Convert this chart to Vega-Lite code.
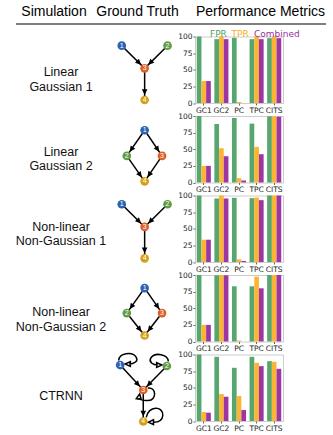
{
  "$schema": "https://vega.github.io/schema/vega-lite/v6.json",
  "padding": {"left": 15, "top": 0, "right": 0, "bottom": 0},
  "columns": 3,
  "spacing": {"row": 12.5, "column": 0},
  "bounds": "flush",
  "align": "each",
  "center": true,
  "resolve": {"scale": {"color": "independent", "fill": "independent", "shape": "independent"}, "legend": {"color": "independent"}},
  "datasets": {
    "nodes": [
      {"sim": "LG1", "node": 1, "id": "LG1-1", "gx": -1, "gy": 0.4},
      {"sim": "LG1", "node": 2, "id": "LG1-2", "gx": 1, "gy": 0.4},
      {"sim": "LG1", "node": 3, "id": "LG1-3", "gx": 0, "gy": 1.39},
      {"sim": "LG1", "node": 4, "id": "LG1-4", "gx": 0, "gy": 2.77},
      {"sim": "LG2", "node": 1, "id": "LG2-1", "gx": 0, "gy": 0.62},
      {"sim": "LG2", "node": 2, "id": "LG2-2", "gx": -0.78, "gy": 1.74},
      {"sim": "LG2", "node": 3, "id": "LG2-3", "gx": 0.76, "gy": 1.74},
      {"sim": "LG2", "node": 4, "id": "LG2-4", "gx": 0, "gy": 2.85},
      {"sim": "NL1", "node": 1, "id": "NL1-1", "gx": -1, "gy": 0.38},
      {"sim": "NL1", "node": 2, "id": "NL1-2", "gx": 1, "gy": 0.38},
      {"sim": "NL1", "node": 3, "id": "NL1-3", "gx": 0, "gy": 1.37},
      {"sim": "NL1", "node": 4, "id": "NL1-4", "gx": 0, "gy": 2.74},
      {"sim": "NL2", "node": 1, "id": "NL2-1", "gx": 0, "gy": 0.57},
      {"sim": "NL2", "node": 2, "id": "NL2-2", "gx": -0.78, "gy": 1.66},
      {"sim": "NL2", "node": 3, "id": "NL2-3", "gx": 0.76, "gy": 1.66},
      {"sim": "NL2", "node": 4, "id": "NL2-4", "gx": 0, "gy": 2.64},
      {"sim": "CT", "node": 1, "id": "CT-1", "gx": -1.07, "gy": 0.46, "selfLoop": true},
      {"sim": "CT", "node": 2, "id": "CT-2", "gx": 0.97, "gy": 0.5, "selfLoop": true},
      {"sim": "CT", "node": 3, "id": "CT-3", "gx": -0.06, "gy": 1.55, "selfLoop": true},
      {"sim": "CT", "node": 4, "id": "CT-4", "gx": -0.06, "gy": 2.92, "selfLoop": true}
    ],
    "edges": [
      {"sim": "LG1", "from": "LG1-1", "to": "LG1-3"},
      {"sim": "LG1", "from": "LG1-2", "to": "LG1-3"},
      {"sim": "LG1", "from": "LG1-3", "to": "LG1-4"},
      {"sim": "LG2", "from": "LG2-1", "to": "LG2-2"},
      {"sim": "LG2", "from": "LG2-1", "to": "LG2-3"},
      {"sim": "LG2", "from": "LG2-2", "to": "LG2-4"},
      {"sim": "LG2", "from": "LG2-3", "to": "LG2-4"},
      {"sim": "NL1", "from": "NL1-1", "to": "NL1-3"},
      {"sim": "NL1", "from": "NL1-2", "to": "NL1-3"},
      {"sim": "NL1", "from": "NL1-3", "to": "NL1-4"},
      {"sim": "NL2", "from": "NL2-1", "to": "NL2-2"},
      {"sim": "NL2", "from": "NL2-1", "to": "NL2-3"},
      {"sim": "NL2", "from": "NL2-2", "to": "NL2-4"},
      {"sim": "NL2", "from": "NL2-3", "to": "NL2-4"},
      {"sim": "CT", "from": "CT-1", "to": "CT-3"},
      {"sim": "CT", "from": "CT-2", "to": "CT-3"},
      {"sim": "CT", "from": "CT-3", "to": "CT-4"}
    ],
    "bars": [
      {"sim": "LG1", "method": "GC1", "metric": "FPR", "value": 100},
      {"sim": "LG1", "method": "GC1", "metric": "TPR", "value": 33},
      {"sim": "LG1", "method": "GC1", "metric": "Combined", "value": 33},
      {"sim": "LG1", "method": "GC2", "metric": "FPR", "value": 96},
      {"sim": "LG1", "method": "GC2", "metric": "TPR", "value": 100},
      {"sim": "LG1", "method": "GC2", "metric": "Combined", "value": 96},
      {"sim": "LG1", "method": "PC", "metric": "FPR", "value": 98},
      {"sim": "LG1", "method": "PC", "metric": "TPR", "value": 1.5},
      {"sim": "LG1", "method": "PC", "metric": "Combined", "value": 0},
      {"sim": "LG1", "method": "TPC", "metric": "FPR", "value": 96},
      {"sim": "LG1", "method": "TPC", "metric": "TPR", "value": 100},
      {"sim": "LG1", "method": "TPC", "metric": "Combined", "value": 96},
      {"sim": "LG1", "method": "CITS", "metric": "FPR", "value": 97.5},
      {"sim": "LG1", "method": "CITS", "metric": "TPR", "value": 100},
      {"sim": "LG1", "method": "CITS", "metric": "Combined", "value": 97.5},
      {"sim": "LG2", "method": "GC1", "metric": "FPR", "value": 100},
      {"sim": "LG2", "method": "GC1", "metric": "TPR", "value": 25},
      {"sim": "LG2", "method": "GC1", "metric": "Combined", "value": 25},
      {"sim": "LG2", "method": "GC2", "metric": "FPR", "value": 88},
      {"sim": "LG2", "method": "GC2", "metric": "TPR", "value": 51.5},
      {"sim": "LG2", "method": "GC2", "metric": "Combined", "value": 39.5},
      {"sim": "LG2", "method": "PC", "metric": "FPR", "value": 97},
      {"sim": "LG2", "method": "PC", "metric": "TPR", "value": 6.5},
      {"sim": "LG2", "method": "PC", "metric": "Combined", "value": 3},
      {"sim": "LG2", "method": "TPC", "metric": "FPR", "value": 88.5},
      {"sim": "LG2", "method": "TPC", "metric": "TPR", "value": 53.5},
      {"sim": "LG2", "method": "TPC", "metric": "Combined", "value": 42.5},
      {"sim": "LG2", "method": "CITS", "metric": "FPR", "value": 99.5},
      {"sim": "LG2", "method": "CITS", "metric": "TPR", "value": 99.5},
      {"sim": "LG2", "method": "CITS", "metric": "Combined", "value": 99},
      {"sim": "NL1", "method": "GC1", "metric": "FPR", "value": 100},
      {"sim": "NL1", "method": "GC1", "metric": "TPR", "value": 33.5},
      {"sim": "NL1", "method": "GC1", "metric": "Combined", "value": 33.5},
      {"sim": "NL1", "method": "GC2", "metric": "FPR", "value": 95.5},
      {"sim": "NL1", "method": "GC2", "metric": "TPR", "value": 100},
      {"sim": "NL1", "method": "GC2", "metric": "Combined", "value": 95.5},
      {"sim": "NL1", "method": "PC", "metric": "FPR", "value": 96.5},
      {"sim": "NL1", "method": "PC", "metric": "TPR", "value": 4},
      {"sim": "NL1", "method": "PC", "metric": "Combined", "value": 1.5},
      {"sim": "NL1", "method": "TPC", "metric": "FPR", "value": 96},
      {"sim": "NL1", "method": "TPC", "metric": "TPR", "value": 97},
      {"sim": "NL1", "method": "TPC", "metric": "Combined", "value": 93},
      {"sim": "NL1", "method": "CITS", "metric": "FPR", "value": 100},
      {"sim": "NL1", "method": "CITS", "metric": "TPR", "value": 100},
      {"sim": "NL1", "method": "CITS", "metric": "Combined", "value": 100},
      {"sim": "NL2", "method": "GC1", "metric": "FPR", "value": 100},
      {"sim": "NL2", "method": "GC1", "metric": "TPR", "value": 25},
      {"sim": "NL2", "method": "GC1", "metric": "Combined", "value": 25},
      {"sim": "NL2", "method": "GC2", "metric": "FPR", "value": 99.5},
      {"sim": "NL2", "method": "GC2", "metric": "TPR", "value": 100},
      {"sim": "NL2", "method": "GC2", "metric": "Combined", "value": 99.5},
      {"sim": "NL2", "method": "PC", "metric": "FPR", "value": 83},
      {"sim": "NL2", "method": "PC", "metric": "TPR", "value": 1.5},
      {"sim": "NL2", "method": "PC", "metric": "Combined", "value": 0},
      {"sim": "NL2", "method": "TPC", "metric": "FPR", "value": 83},
      {"sim": "NL2", "method": "TPC", "metric": "TPR", "value": 97.5},
      {"sim": "NL2", "method": "TPC", "metric": "Combined", "value": 80},
      {"sim": "NL2", "method": "CITS", "metric": "FPR", "value": 100},
      {"sim": "NL2", "method": "CITS", "metric": "TPR", "value": 100},
      {"sim": "NL2", "method": "CITS", "metric": "Combined", "value": 100},
      {"sim": "CT", "method": "GC1", "metric": "FPR", "value": 100},
      {"sim": "CT", "method": "GC1", "metric": "TPR", "value": 13.5},
      {"sim": "CT", "method": "GC1", "metric": "Combined", "value": 12.5},
      {"sim": "CT", "method": "GC2", "metric": "FPR", "value": 96.5},
      {"sim": "CT", "method": "GC2", "metric": "TPR", "value": 40.5},
      {"sim": "CT", "method": "GC2", "metric": "Combined", "value": 36.5},
      {"sim": "CT", "method": "PC", "metric": "FPR", "value": 80},
      {"sim": "CT", "method": "PC", "metric": "TPR", "value": 37.5},
      {"sim": "CT", "method": "PC", "metric": "Combined", "value": 16.5},
      {"sim": "CT", "method": "TPC", "metric": "FPR", "value": 96.5},
      {"sim": "CT", "method": "TPC", "metric": "TPR", "value": 87.5},
      {"sim": "CT", "method": "TPC", "metric": "Combined", "value": 82.5},
      {"sim": "CT", "method": "CITS", "metric": "FPR", "value": 90},
      {"sim": "CT", "method": "CITS", "metric": "TPR", "value": 89},
      {"sim": "CT", "method": "CITS", "metric": "Combined", "value": 78.5}
    ]
  },
  "concat": [
    {
      "width": 76, "height": 24, "view": {"stroke": null},
      "data": {"values": [{"heading": "Simulation"}]},
      "layer": [
        {"mark": {"type": "text", "font": "Liberation Sans", "fontSize": 14, "color": "#000000"}, "encoding": {"text": {"field": "heading"}}},
        {"mark": {"type": "rule", "color": "#000000", "strokeWidth": 1.2}, "encoding": {"y": {"datum": 0, "type": "quantitative", "scale": {"domain": [0, 1]}, "axis": null}}}
      ]
    },
    {
      "width": 103, "height": 24, "view": {"stroke": null},
      "data": {"values": [{"heading": "Ground Truth"}]},
      "layer": [
        {"mark": {"type": "text", "font": "Liberation Sans", "fontSize": 14, "color": "#000000", "dx": -6}, "encoding": {"text": {"field": "heading"}}},
        {"mark": {"type": "rule", "color": "#000000", "strokeWidth": 1.2}, "encoding": {"y": {"datum": 0, "type": "quantitative", "scale": {"domain": [0, 1]}, "axis": null}}}
      ]
    },
    {
      "width": 131, "height": 24, "view": {"stroke": null},
      "data": {"values": [{"heading": "Performance Metrics"}]},
      "layer": [
        {"mark": {"type": "text", "font": "Liberation Sans", "fontSize": 14, "color": "#000000"}, "encoding": {"text": {"field": "heading"}}},
        {"mark": {"type": "rule", "color": "#000000", "strokeWidth": 1.2}, "encoding": {"y": {"datum": 0, "type": "quantitative", "scale": {"domain": [0, 1]}, "axis": null}}}
      ]
    },

    {
      "width": 76, "height": 66.5, "view": {"stroke": null},
      "data": {"values": [{"label": "Linear\nGaussian 1"}]},
      "mark": {"type": "text", "font": "Liberation Sans", "fontSize": 12.5, "lineHeight": 14.5, "lineBreak": "\n", "color": "#111111", "dx": 7, "dy": 2.5},
      "encoding": {"text": {"field": "label"}}
    },
    {
      "width": 103, "height": 66.5, "view": {"stroke": null},
      "layer": [
        {
          "data": {"name": "edges"},
          "transform": [
            {"filter": "datum.sim === 'LG1'"},
            {"lookup": "from", "from": {"data": {"name": "nodes"}, "key": "id", "fields": ["gx", "gy"]}, "as": ["sx", "sy"]},
            {"lookup": "to", "from": {"data": {"name": "nodes"}, "key": "id", "fields": ["gx", "gy"]}, "as": ["tx", "ty"]},
            {"calculate": "atan2(datum.sx - datum.tx, datum.ty - datum.sy) * 180 / PI", "as": "angle"}
          ],
          "layer": [
            {"mark": {"type": "rule", "color": "#000000", "strokeWidth": 1.5},
             "encoding": {"x": {"field": "sx", "type": "quantitative", "scale": {"domain": [-2.3, 2.2], "nice": false, "zero": false}, "axis": null}, "y": {"field": "sy", "type": "quantitative", "scale": {"domain": [0, 2.9], "nice": false, "zero": false, "reverse": true}, "axis": null}, "x2": {"field": "tx"}, "y2": {"field": "ty"}}},
            {"mark": {"type": "point", "shape": "M0,-0.5L-0.28,-1.08L0.28,-1.08Z", "size": 400, "filled": true, "color": "#000000", "opacity": 1, "strokeWidth": 0},
             "encoding": {"x": {"field": "tx", "type": "quantitative"}, "y": {"field": "ty", "type": "quantitative"}, "angle": {"field": "angle", "type": "quantitative", "scale": null}}}
          ]
        },
        {
          "data": {"name": "nodes"},
          "transform": [{"filter": "datum.sim === 'LG1'"}],
          "layer": [
            {"mark": {"type": "circle", "size": 75, "opacity": 1},
             "encoding": {"x": {"field": "gx", "type": "quantitative"}, "y": {"field": "gy", "type": "quantitative"}, "fill": {"field": "node", "type": "nominal", "scale": {"domain": [1, 2, 3, 4], "range": ["#2d62b0", "#5f9c45", "#db5f27", "#d4a018"]}, "legend": null}}},
            {"mark": {"type": "text", "color": "#ffffff", "fontSize": 7, "font": "Liberation Sans"},
             "encoding": {"x": {"field": "gx", "type": "quantitative"}, "y": {"field": "gy", "type": "quantitative"}, "text": {"field": "node"}}}
          ]
        }
      ]
    },
    {
      "width": 88, "height": 66.5, "view": {"stroke": "#cccccc"},
      "data": {"name": "bars"},
      "transform": [{"filter": "datum.sim === 'LG1'"}],
      "mark": {"type": "bar"},
      "encoding": {
        "x": {"field": "method", "type": "nominal", "sort": ["GC1", "GC2", "PC", "TPC", "CITS"], "scale": {"paddingInner": 0.2, "paddingOuter": 0.1}, "axis": {"title": null, "labelAngle": 0}},
        "xOffset": {"field": "metric", "type": "nominal", "sort": ["FPR", "TPR", "Combined"]},
        "y": {"field": "value", "type": "quantitative", "scale": {"domain": [0, 100], "nice": false}, "axis": {"title": null, "values": [0, 25, 50, 75, 100]}},
        "color": {"field": "metric", "type": "nominal", "scale": {"domain": ["FPR", "TPR", "Combined"], "range": ["#58a66f", "#fbb433", "#9c36a2"]},
          "legend": {"orient": "top", "direction": "horizontal", "title": null, "gridAlign": "none", "symbolSize": 0, "symbolStrokeWidth": 0, "symbolOpacity": 0, "labelOffset": 6, "columnPadding": -10.5, "labelFont": "DejaVu Sans", "labelFontSize": 9, "labelFontWeight": 500, "offset": -3, "padding": 0,
            "labelColor": {"expr": "datum.value === 'FPR' ? '#4f9f66' : datum.value === 'TPR' ? '#f9ae25' : '#962f9c'"}}}
      }
    },

    {
      "width": 76, "height": 66.5, "view": {"stroke": null},
      "data": {"values": [{"label": "Linear\nGaussian 2"}]},
      "mark": {"type": "text", "font": "Liberation Sans", "fontSize": 12.5, "lineHeight": 14.5, "lineBreak": "\n", "color": "#111111", "dx": 7, "dy": 2.5},
      "encoding": {"text": {"field": "label"}}
    },
    {
      "width": 103, "height": 66.5, "view": {"stroke": null},
      "layer": [
        {
          "data": {"name": "edges"},
          "transform": [
            {"filter": "datum.sim === 'LG2'"},
            {"lookup": "from", "from": {"data": {"name": "nodes"}, "key": "id", "fields": ["gx", "gy"]}, "as": ["sx", "sy"]},
            {"lookup": "to", "from": {"data": {"name": "nodes"}, "key": "id", "fields": ["gx", "gy"]}, "as": ["tx", "ty"]},
            {"calculate": "atan2(datum.sx - datum.tx, datum.ty - datum.sy) * 180 / PI", "as": "angle"}
          ],
          "layer": [
            {"mark": {"type": "rule", "color": "#000000", "strokeWidth": 1.5},
             "encoding": {"x": {"field": "sx", "type": "quantitative", "scale": {"domain": [-2.3, 2.2], "nice": false, "zero": false}, "axis": null}, "y": {"field": "sy", "type": "quantitative", "scale": {"domain": [0, 2.9], "nice": false, "zero": false, "reverse": true}, "axis": null}, "x2": {"field": "tx"}, "y2": {"field": "ty"}}},
            {"mark": {"type": "point", "shape": "M0,-0.5L-0.28,-1.08L0.28,-1.08Z", "size": 400, "filled": true, "color": "#000000", "opacity": 1, "strokeWidth": 0},
             "encoding": {"x": {"field": "tx", "type": "quantitative"}, "y": {"field": "ty", "type": "quantitative"}, "angle": {"field": "angle", "type": "quantitative", "scale": null}}}
          ]
        },
        {
          "data": {"name": "nodes"},
          "transform": [{"filter": "datum.sim === 'LG2'"}],
          "layer": [
            {"mark": {"type": "circle", "size": 75, "opacity": 1},
             "encoding": {"x": {"field": "gx", "type": "quantitative"}, "y": {"field": "gy", "type": "quantitative"}, "fill": {"field": "node", "type": "nominal", "scale": {"domain": [1, 2, 3, 4], "range": ["#2d62b0", "#5f9c45", "#db5f27", "#d4a018"]}, "legend": null}}},
            {"mark": {"type": "text", "color": "#ffffff", "fontSize": 7, "font": "Liberation Sans"},
             "encoding": {"x": {"field": "gx", "type": "quantitative"}, "y": {"field": "gy", "type": "quantitative"}, "text": {"field": "node"}}}
          ]
        }
      ]
    },
    {
      "width": 88, "height": 66.5, "view": {"stroke": "#cccccc"},
      "data": {"name": "bars"},
      "transform": [{"filter": "datum.sim === 'LG2'"}],
      "mark": {"type": "bar"},
      "encoding": {
        "x": {"field": "method", "type": "nominal", "sort": ["GC1", "GC2", "PC", "TPC", "CITS"], "scale": {"paddingInner": 0.2, "paddingOuter": 0.1}, "axis": {"title": null, "labelAngle": 0}},
        "xOffset": {"field": "metric", "type": "nominal", "sort": ["FPR", "TPR", "Combined"]},
        "y": {"field": "value", "type": "quantitative", "scale": {"domain": [0, 100], "nice": false}, "axis": {"title": null, "values": [0, 25, 50, 75, 100]}},
        "color": {"field": "metric", "type": "nominal", "scale": {"domain": ["FPR", "TPR", "Combined"], "range": ["#58a66f", "#fbb433", "#9c36a2"]}, "legend": null}
      }
    },

    {
      "width": 76, "height": 66.5, "view": {"stroke": null},
      "data": {"values": [{"label": "Non-linear\nNon-Gaussian 1"}]},
      "mark": {"type": "text", "font": "Liberation Sans", "fontSize": 12.5, "lineHeight": 14.5, "lineBreak": "\n", "color": "#111111", "dx": 7, "dy": -2},
      "encoding": {"text": {"field": "label"}}
    },
    {
      "width": 103, "height": 66.5, "view": {"stroke": null},
      "layer": [
        {
          "data": {"name": "edges"},
          "transform": [
            {"filter": "datum.sim === 'NL1'"},
            {"lookup": "from", "from": {"data": {"name": "nodes"}, "key": "id", "fields": ["gx", "gy"]}, "as": ["sx", "sy"]},
            {"lookup": "to", "from": {"data": {"name": "nodes"}, "key": "id", "fields": ["gx", "gy"]}, "as": ["tx", "ty"]},
            {"calculate": "atan2(datum.sx - datum.tx, datum.ty - datum.sy) * 180 / PI", "as": "angle"}
          ],
          "layer": [
            {"mark": {"type": "rule", "color": "#000000", "strokeWidth": 1.5},
             "encoding": {"x": {"field": "sx", "type": "quantitative", "scale": {"domain": [-2.3, 2.2], "nice": false, "zero": false}, "axis": null}, "y": {"field": "sy", "type": "quantitative", "scale": {"domain": [0, 2.9], "nice": false, "zero": false, "reverse": true}, "axis": null}, "x2": {"field": "tx"}, "y2": {"field": "ty"}}},
            {"mark": {"type": "point", "shape": "M0,-0.5L-0.28,-1.08L0.28,-1.08Z", "size": 400, "filled": true, "color": "#000000", "opacity": 1, "strokeWidth": 0},
             "encoding": {"x": {"field": "tx", "type": "quantitative"}, "y": {"field": "ty", "type": "quantitative"}, "angle": {"field": "angle", "type": "quantitative", "scale": null}}}
          ]
        },
        {
          "data": {"name": "nodes"},
          "transform": [{"filter": "datum.sim === 'NL1'"}],
          "layer": [
            {"mark": {"type": "circle", "size": 75, "opacity": 1},
             "encoding": {"x": {"field": "gx", "type": "quantitative"}, "y": {"field": "gy", "type": "quantitative"}, "fill": {"field": "node", "type": "nominal", "scale": {"domain": [1, 2, 3, 4], "range": ["#2d62b0", "#5f9c45", "#db5f27", "#d4a018"]}, "legend": null}}},
            {"mark": {"type": "text", "color": "#ffffff", "fontSize": 7, "font": "Liberation Sans"},
             "encoding": {"x": {"field": "gx", "type": "quantitative"}, "y": {"field": "gy", "type": "quantitative"}, "text": {"field": "node"}}}
          ]
        }
      ]
    },
    {
      "width": 88, "height": 66.5, "view": {"stroke": "#cccccc"},
      "data": {"name": "bars"},
      "transform": [{"filter": "datum.sim === 'NL1'"}],
      "mark": {"type": "bar"},
      "encoding": {
        "x": {"field": "method", "type": "nominal", "sort": ["GC1", "GC2", "PC", "TPC", "CITS"], "scale": {"paddingInner": 0.2, "paddingOuter": 0.1}, "axis": {"title": null, "labelAngle": 0}},
        "xOffset": {"field": "metric", "type": "nominal", "sort": ["FPR", "TPR", "Combined"]},
        "y": {"field": "value", "type": "quantitative", "scale": {"domain": [0, 100], "nice": false}, "axis": {"title": null, "values": [0, 25, 50, 75, 100]}},
        "color": {"field": "metric", "type": "nominal", "scale": {"domain": ["FPR", "TPR", "Combined"], "range": ["#58a66f", "#fbb433", "#9c36a2"]}, "legend": null}
      }
    },

    {
      "width": 76, "height": 66.5, "view": {"stroke": null},
      "data": {"values": [{"label": "Non-linear\nNon-Gaussian 2"}]},
      "mark": {"type": "text", "font": "Liberation Sans", "fontSize": 12.5, "lineHeight": 14.5, "lineBreak": "\n", "color": "#111111", "dx": 7, "dy": 4},
      "encoding": {"text": {"field": "label"}}
    },
    {
      "width": 103, "height": 66.5, "view": {"stroke": null},
      "layer": [
        {
          "data": {"name": "edges"},
          "transform": [
            {"filter": "datum.sim === 'NL2'"},
            {"lookup": "from", "from": {"data": {"name": "nodes"}, "key": "id", "fields": ["gx", "gy"]}, "as": ["sx", "sy"]},
            {"lookup": "to", "from": {"data": {"name": "nodes"}, "key": "id", "fields": ["gx", "gy"]}, "as": ["tx", "ty"]},
            {"calculate": "atan2(datum.sx - datum.tx, datum.ty - datum.sy) * 180 / PI", "as": "angle"}
          ],
          "layer": [
            {"mark": {"type": "rule", "color": "#000000", "strokeWidth": 1.5},
             "encoding": {"x": {"field": "sx", "type": "quantitative", "scale": {"domain": [-2.3, 2.2], "nice": false, "zero": false}, "axis": null}, "y": {"field": "sy", "type": "quantitative", "scale": {"domain": [0, 2.9], "nice": false, "zero": false, "reverse": true}, "axis": null}, "x2": {"field": "tx"}, "y2": {"field": "ty"}}},
            {"mark": {"type": "point", "shape": "M0,-0.5L-0.28,-1.08L0.28,-1.08Z", "size": 400, "filled": true, "color": "#000000", "opacity": 1, "strokeWidth": 0},
             "encoding": {"x": {"field": "tx", "type": "quantitative"}, "y": {"field": "ty", "type": "quantitative"}, "angle": {"field": "angle", "type": "quantitative", "scale": null}}}
          ]
        },
        {
          "data": {"name": "nodes"},
          "transform": [{"filter": "datum.sim === 'NL2'"}],
          "layer": [
            {"mark": {"type": "circle", "size": 75, "opacity": 1},
             "encoding": {"x": {"field": "gx", "type": "quantitative"}, "y": {"field": "gy", "type": "quantitative"}, "fill": {"field": "node", "type": "nominal", "scale": {"domain": [1, 2, 3, 4], "range": ["#2d62b0", "#5f9c45", "#db5f27", "#d4a018"]}, "legend": null}}},
            {"mark": {"type": "text", "color": "#ffffff", "fontSize": 7, "font": "Liberation Sans"},
             "encoding": {"x": {"field": "gx", "type": "quantitative"}, "y": {"field": "gy", "type": "quantitative"}, "text": {"field": "node"}}}
          ]
        }
      ]
    },
    {
      "width": 88, "height": 66.5, "view": {"stroke": "#cccccc"},
      "data": {"name": "bars"},
      "transform": [{"filter": "datum.sim === 'NL2'"}],
      "mark": {"type": "bar"},
      "encoding": {
        "x": {"field": "method", "type": "nominal", "sort": ["GC1", "GC2", "PC", "TPC", "CITS"], "scale": {"paddingInner": 0.2, "paddingOuter": 0.1}, "axis": {"title": null, "labelAngle": 0}},
        "xOffset": {"field": "metric", "type": "nominal", "sort": ["FPR", "TPR", "Combined"]},
        "y": {"field": "value", "type": "quantitative", "scale": {"domain": [0, 100], "nice": false}, "axis": {"title": null, "values": [0, 25, 50, 75, 100]}},
        "color": {"field": "metric", "type": "nominal", "scale": {"domain": ["FPR", "TPR", "Combined"], "range": ["#58a66f", "#fbb433", "#9c36a2"]}, "legend": null}
      }
    },

    {
      "width": 76, "height": 66.5, "view": {"stroke": null},
      "data": {"values": [{"label": "CTRNN"}]},
      "mark": {"type": "text", "font": "Liberation Sans", "fontSize": 12.5, "color": "#111111", "dx": 7, "dy": 8},
      "encoding": {"text": {"field": "label"}}
    },
    {
      "width": 103, "height": 66.5, "view": {"stroke": null},
      "layer": [
        {
          "data": {"name": "edges"},
          "transform": [
            {"filter": "datum.sim === 'CT'"},
            {"lookup": "from", "from": {"data": {"name": "nodes"}, "key": "id", "fields": ["gx", "gy"]}, "as": ["sx", "sy"]},
            {"lookup": "to", "from": {"data": {"name": "nodes"}, "key": "id", "fields": ["gx", "gy"]}, "as": ["tx", "ty"]},
            {"calculate": "atan2(datum.sx - datum.tx, datum.ty - datum.sy) * 180 / PI", "as": "angle"}
          ],
          "layer": [
            {"mark": {"type": "rule", "color": "#000000", "strokeWidth": 1.5},
             "encoding": {"x": {"field": "sx", "type": "quantitative", "scale": {"domain": [-2.3, 2.2], "nice": false, "zero": false}, "axis": null}, "y": {"field": "sy", "type": "quantitative", "scale": {"domain": [0, 2.9], "nice": false, "zero": false, "reverse": true}, "axis": null}, "x2": {"field": "tx"}, "y2": {"field": "ty"}}},
            {"mark": {"type": "point", "shape": "M0,-0.5L-0.28,-1.08L0.28,-1.08Z", "size": 400, "filled": true, "color": "#000000", "opacity": 1, "strokeWidth": 0},
             "encoding": {"x": {"field": "tx", "type": "quantitative"}, "y": {"field": "ty", "type": "quantitative"}, "angle": {"field": "angle", "type": "quantitative", "scale": null}}}
          ]
        },
        {
          "data": {"name": "nodes"},
          "transform": [{"filter": "datum.sim === 'CT' && datum.selfLoop"}],
          "mark": {"type": "point", "size": 400, "filled": false, "color": "#000000", "strokeWidth": 1.5, "opacity": 1},
          "encoding": {
            "x": {"field": "gx", "type": "quantitative"}, "y": {"field": "gy", "type": "quantitative"},
            "shape": {"field": "node", "type": "nominal", "legend": null, "scale": {"domain": [1, 2, 3, 4], "range": [
              "M-0.15,-0.46C-0.1,-1.2 1.2,-1.4 1.6,-0.8C1.85,-0.4 1.4,-0.1 0.9,-0.1M0.5,-0.1L1.02,-0.34L1.02,0.14Z",
              "M0.15,-0.46C0.1,-1.2 -1.2,-1.4 -1.6,-0.8C-1.85,-0.4 -1.4,-0.1 -0.9,-0.1M-0.5,-0.1L-1.02,-0.34L-1.02,0.14Z",
              "M0.45,-0.2C1.3,-0.35 1.4,1.0 0.5,1.05C0.0,1.08 -0.35,0.95 -0.42,0.8M-0.36,0.38L-0.7,0.86L-0.2,0.95Z",
              "M0.3,-0.4C0.5,-1.6 2.0,-1.6 1.95,-0.6C1.9,0 1.4,0.08 1.0,0.07M0.52,0.07L1.02,-0.17L1.02,0.31Z"
            ]}}
          }
        },
        {
          "data": {"name": "nodes"},
          "transform": [{"filter": "datum.sim === 'CT'"}],
          "layer": [
            {"mark": {"type": "circle", "size": 75, "opacity": 1},
             "encoding": {"x": {"field": "gx", "type": "quantitative"}, "y": {"field": "gy", "type": "quantitative"}, "fill": {"field": "node", "type": "nominal", "scale": {"domain": [1, 2, 3, 4], "range": ["#2d62b0", "#5f9c45", "#db5f27", "#d4a018"]}, "legend": null}}},
            {"mark": {"type": "text", "color": "#ffffff", "fontSize": 7, "font": "Liberation Sans"},
             "encoding": {"x": {"field": "gx", "type": "quantitative"}, "y": {"field": "gy", "type": "quantitative"}, "text": {"field": "node"}}}
          ]
        }
      ]
    },
    {
      "width": 88, "height": 66.5, "view": {"stroke": "#cccccc"},
      "data": {"name": "bars"},
      "transform": [{"filter": "datum.sim === 'CT'"}],
      "mark": {"type": "bar"},
      "encoding": {
        "x": {"field": "method", "type": "nominal", "sort": ["GC1", "GC2", "PC", "TPC", "CITS"], "scale": {"paddingInner": 0.2, "paddingOuter": 0.1}, "axis": {"title": null, "labelAngle": 0}},
        "xOffset": {"field": "metric", "type": "nominal", "sort": ["FPR", "TPR", "Combined"]},
        "y": {"field": "value", "type": "quantitative", "scale": {"domain": [0, 100], "nice": false}, "axis": {"title": null, "values": [0, 25, 50, 75, 100]}},
        "color": {"field": "metric", "type": "nominal", "scale": {"domain": ["FPR", "TPR", "Combined"], "range": ["#58a66f", "#fbb433", "#9c36a2"]}, "legend": null}
      }
    }
  ],
  "config": {
    "view": {"stroke": null},
    "axis": {"labelFont": "DejaVu Sans", "labelFontSize": 7.5, "labelColor": "#222222", "tickSize": 2, "tickColor": "#666666", "domain": false, "grid": false, "labelPadding": 1}
  }
}
